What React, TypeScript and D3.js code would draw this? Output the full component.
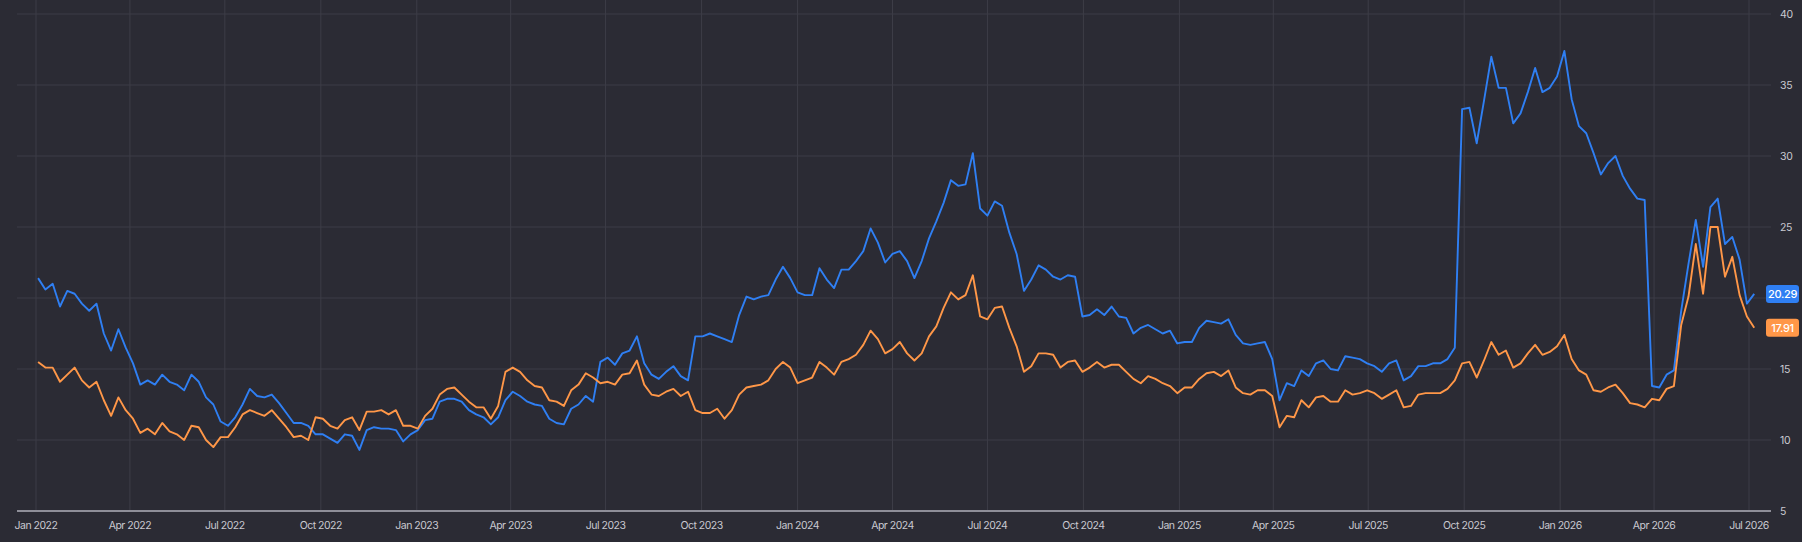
import React, { useRef, useEffect } from "react";
import * as d3 from "d3";

// weekly closes, first week starting 2022-01-03
const firstWeek = "2022-01-03";

const blueSeries = [
  21.4, 20.6, 21.0, 19.4, 20.5, 20.3, 19.6, 19.1, 19.6, 17.5, 16.3, 17.8, 16.5, 15.4, 13.9, 14.2, 13.9, 14.6, 14.1, 13.9,
  13.5, 14.6, 14.1, 13.0, 12.5, 11.3, 11.0, 11.6, 12.5, 13.6, 13.1, 13.0, 13.2, 12.6, 11.9, 11.2, 11.2, 11.0, 10.4,
  10.4, 10.1, 9.8, 10.4, 10.3, 9.3, 10.7, 10.9, 10.8, 10.8, 10.7, 9.9, 10.4, 10.7, 11.4, 11.5, 12.7, 12.9, 12.9, 12.7,
  12.1, 11.8, 11.6, 11.1, 11.6, 12.8, 13.4, 13.1, 12.7, 12.5, 12.4, 11.5, 11.2, 11.1, 12.2, 12.5, 13.1, 12.7, 15.5,
  15.8, 15.3, 16.1, 16.3, 17.3, 15.4, 14.6, 14.3, 14.8, 15.2, 14.5, 14.2, 17.3, 17.3, 17.5, 17.3, 17.1, 16.9, 18.8, 20.1,
  19.9, 20.1, 20.2, 21.3, 22.2, 21.4, 20.4, 20.2, 20.2, 22.1, 21.3, 20.7, 22.0, 22.0, 22.6, 23.3, 24.9, 23.9, 22.5, 23.1,
  23.3, 22.6, 21.4, 22.6, 24.2, 25.4, 26.7, 28.3, 27.9, 28.0, 30.2, 26.3, 25.8, 26.8, 26.5, 24.6, 23.1, 20.5, 21.3, 22.3,
  22.0, 21.5, 21.3, 21.6, 21.5, 18.7, 18.8, 19.2, 18.8, 19.4, 18.7, 18.6, 17.5, 17.9, 18.1, 17.8, 17.5, 17.7, 16.8,
  16.9, 16.9, 17.9, 18.4, 18.3, 18.2, 18.5, 17.4, 16.8, 16.7, 16.8, 16.9, 15.7, 12.8, 14.0, 13.8, 14.9, 14.5, 15.4, 15.6,
  15.0, 14.9, 15.9, 15.8, 15.7, 15.4, 15.2, 14.8, 15.4, 15.6, 14.2, 14.5, 15.2, 15.2, 15.4, 15.4, 15.7, 16.5, 33.3,
  33.4, 30.9, 33.9, 37.0, 34.8, 34.8, 32.3, 33.0, 34.5, 36.2, 34.5, 34.8, 35.6, 37.4, 34.0, 32.1, 31.6, 30.2, 28.7, 29.5,
  30.0, 28.6, 27.7, 27.0, 26.9, 13.8, 13.7, 14.6, 14.9, 19.1, 22.4, 25.5, 22.2, 26.4, 27.0, 23.8, 24.3, 22.7, 19.6, 20.29,
];

const orangeSeries = [
  15.5, 15.1, 15.1, 14.1, 14.6, 15.1, 14.2, 13.7, 14.1, 12.8, 11.7, 13.0, 12.1, 11.5, 10.5, 10.8, 10.4, 11.2, 10.6, 10.4,
  10.0, 11.0, 10.9, 10.0, 9.5, 10.2, 10.2, 10.9, 11.8, 12.1, 11.9, 11.7, 12.1, 11.5, 10.9, 10.2, 10.3, 10.0, 11.6,
  11.5, 11.0, 10.8, 11.4, 11.6, 10.7, 12.0, 12.0, 12.1, 11.8, 12.1, 11.0, 11.0, 10.8, 11.7, 12.2, 13.2, 13.6, 13.7, 13.2,
  12.7, 12.3, 12.3, 11.5, 12.4, 14.8, 15.1, 14.8, 14.2, 13.8, 13.7, 12.8, 12.7, 12.4, 13.5, 13.9, 14.7, 14.4, 14.0,
  14.1, 13.9, 14.6, 14.7, 15.6, 13.9, 13.2, 13.1, 13.4, 13.6, 13.1, 13.4, 12.1, 11.9, 11.9, 12.2, 11.5, 12.1, 13.2, 13.7,
  13.8, 13.9, 14.2, 15.0, 15.5, 15.1, 14.0, 14.2, 14.4, 15.5, 15.1, 14.6, 15.5, 15.7, 16.0, 16.7, 17.7, 17.1, 16.1, 16.4,
  16.9, 16.1, 15.6, 16.1, 17.3, 18.0, 19.3, 20.4, 19.9, 20.2, 21.6, 18.7, 18.5, 19.3, 19.4, 17.9, 16.6, 14.8, 15.2, 16.1,
  16.1, 16.0, 15.1, 15.5, 15.6, 14.8, 15.1, 15.5, 15.1, 15.3, 15.3, 14.8, 14.3, 14.0, 14.5, 14.3, 14.0, 13.8, 13.3,
  13.7, 13.7, 14.3, 14.7, 14.8, 14.5, 14.9, 13.7, 13.3, 13.2, 13.5, 13.5, 13.1, 10.9, 11.7, 11.6, 12.8, 12.3, 13.0, 13.1,
  12.7, 12.7, 13.5, 13.2, 13.3, 13.5, 13.3, 12.9, 13.2, 13.5, 12.3, 12.4, 13.2, 13.3, 13.3, 13.3, 13.6, 14.2, 15.4,
  15.5, 14.4, 15.6, 16.9, 16.0, 16.3, 15.1, 15.4, 16.1, 16.7, 16.0, 16.2, 16.6, 17.4, 15.7, 14.9, 14.6, 13.5, 13.4, 13.7,
  13.9, 13.3, 12.6, 12.5, 12.3, 12.9, 12.8, 13.6, 13.8, 18.1, 20.1, 23.8, 20.3, 25.0, 25.0, 21.5, 22.9, 20.2, 18.7, 17.91,
];

const yTicks = [5, 10, 15, 20, 25, 30, 35, 40];

const BLUE = "#2f7ff3";
const ORANGE = "#ff9748";

const App: React.FC = () => {
  const ref = useRef<SVGSVGElement | null>(null);

  useEffect(() => {
    const width = 1802;
    const height = 542;
    const bg = "#2b2b34";

    document.body.style.margin = "0";
    document.body.style.background = bg;

    const start = new Date(firstWeek + "T00:00:00Z");
    const dates = blueSeries.map((_, i) => d3.utcDay.offset(start, 7 * i));

    const x = d3
      .scaleUtc()
      .domain([new Date(Date.UTC(2022, 0, 1)), new Date(Date.UTC(2026, 6, 1))])
      .range([36, 1749]);
    const y = d3.scaleLinear().domain([5, 40]).range([511, 14]);

    const left = 17;
    const right = 1771;

    const svg = d3
      .select(ref.current)
      .attr("width", width)
      .attr("height", height)
      .attr("viewBox", `0 0 ${width} ${height}`)
      .style("position", "absolute")
      .style("left", 0)
      .style("top", 0)
      .style("font-family", "Inter, 'Noto Sans', sans-serif");
    svg.selectAll("*").remove();

    svg.append("rect").attr("width", width).attr("height", height).attr("fill", bg);

    // grid
    const xTicks = x.ticks(d3.utcMonth.every(3)!);
    svg
      .append("g")
      .selectAll("line")
      .data(xTicks)
      .join("line")
      .attr("x1", (d) => x(d))
      .attr("x2", (d) => x(d))
      .attr("y1", 0)
      .attr("y2", y(5))
      .attr("stroke", "#3d3d47")
      .attr("stroke-width", 1);

    svg
      .append("g")
      .selectAll("line")
      .data(yTicks.filter((t) => t > 5))
      .join("line")
      .attr("x1", left)
      .attr("x2", right)
      .attr("y1", (d) => y(d))
      .attr("y2", (d) => y(d))
      .attr("stroke", "#3d3d47")
      .attr("stroke-width", 1);

    // bottom axis line
    svg
      .append("line")
      .attr("x1", left)
      .attr("x2", right)
      .attr("y1", y(5))
      .attr("y2", y(5))
      .attr("stroke", "#8e8e98")
      .attr("stroke-width", 2);

    const fmt = d3.utcFormat("%b %Y");
    svg
      .append("g")
      .selectAll("text")
      .data(xTicks)
      .join("text")
      .attr("x", (d) => x(d))
      .attr("y", 529)
      .attr("text-anchor", "middle")
      .attr("fill", "#c9c9d1")
      .style("font-size", "10.5px")
      .style("letter-spacing", "-0.5px")
      .text((d) => fmt(d));

    // last value tags (they sit over the axis labels they hit)
    const tags = [
      { value: blueSeries[blueSeries.length - 1], color: BLUE },
      { value: orangeSeries[orangeSeries.length - 1], color: ORANGE },
    ];

    svg
      .append("g")
      .selectAll("text")
      .data(yTicks.filter((t) => tags.every((g) => Math.abs(y(t) - y(g.value)) > 12)))
      .join("text")
      .attr("x", 1780)
      .attr("y", (d) => y(d) + 4)
      .attr("fill", "#c9c9d1")
      .style("font-size", "10.5px")
      .style("letter-spacing", "-0.3px")
      .text((d) => d);

    // lines
    const line = d3
      .line<number>()
      .x((_, i) => x(dates[i]))
      .y((d) => y(d));

    svg
      .append("path")
      .datum(blueSeries)
      .attr("fill", "none")
      .attr("stroke", BLUE)
      .attr("stroke-width", 1.9)
      .attr("stroke-linejoin", "round")
      .attr("d", line);

    svg
      .append("path")
      .datum(orangeSeries)
      .attr("fill", "none")
      .attr("stroke", ORANGE)
      .attr("stroke-width", 1.9)
      .attr("stroke-linejoin", "round")
      .attr("d", line);

    const tag = svg
      .append("g")
      .selectAll("g")
      .data(tags)
      .join("g")
      .attr("transform", (d) => `translate(1766,${y(d.value) - 9})`);
    tag
      .append("rect")
      .attr("width", 33)
      .attr("height", 18)
      .attr("rx", 3)
      .attr("fill", (d) => d.color);
    tag
      .append("text")
      .attr("x", 16.5)
      .attr("y", 13)
      .attr("text-anchor", "middle")
      .attr("fill", "#ffffff")
      .style("font-size", "11px")
      .style("font-weight", 500)
      .style("letter-spacing", "-0.3px")
      .text((d) => d.value.toFixed(2));
  }, []);

  return <svg ref={ref}></svg>;
};

export default App;
